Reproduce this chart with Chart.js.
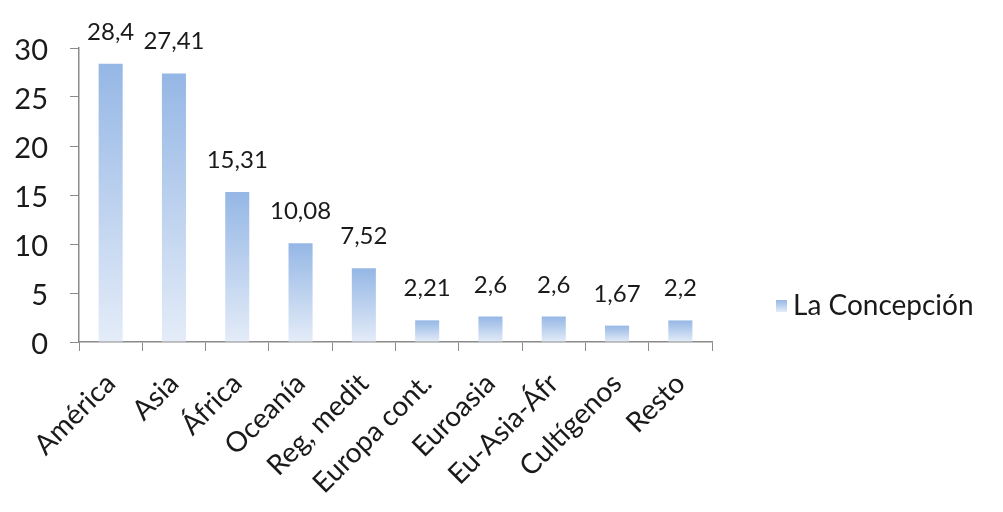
<!DOCTYPE html>
<html lang="es">
<head>
  <meta charset="utf-8" />
  <title>La Concepción</title>
  <script src="https://cdn.jsdelivr.net/npm/chart.js"></script>
  <style>
    * { box-sizing: border-box; margin: 0; padding: 0; }
    body { background: #fff; }
    .wrap { width: 1003px; height: 512px; position: relative; }
  </style>
</head>
<body>
  <div class="wrap"><canvas id="chart"></canvas></div>

  <script>
    const categories = ['América', 'Asia', 'África', 'Oceanía', 'Reg, medit', 'Europa cont.', 'Euroasia', 'Eu-Asia-Áfr', 'Cultígenos', 'Resto'];
    const values = [28.4, 27.41, 15.31, 10.08, 7.52, 2.21, 2.6, 2.6, 1.67, 2.2];
    const seriesName = 'La Concepción';
    const yTicks = [0, 5, 10, 15, 20, 25, 30];

    const FONT = 'Lato, "Open Sans", sans-serif';
    const fmt = v => String(v).replace('.', ',');

    // each bar gets its own top-to-bottom fade
    function barFill(ctx) {
      const { chart } = ctx;
      const area = chart.chartArea;
      const ys = chart.scales.y;
      if (!area || !ys || ctx.dataIndex == null) return '#a9c4e8';
      const top = ys.getPixelForValue(values[ctx.dataIndex]);
      const g = chart.ctx.createLinearGradient(0, top, 0, area.bottom);
      g.addColorStop(0, '#95b7e5');
      g.addColorStop(1, '#e4ecf8');
      return g;
    }

    // value labels above bars
    const valueLabels = {
      id: 'valueLabels',
      afterDatasetsDraw(chart) {
        const c = chart.ctx;
        const meta = chart.getDatasetMeta(0);
        c.save();
        c.font = '24px ' + FONT;
        c.fillStyle = '#1a1a1a';
        c.textAlign = 'center';
        c.textBaseline = 'alphabetic';
        meta.data.forEach((bar, i) => {
          c.fillText(fmt(values[i]), bar.x, bar.y - 24);
        });
        c.restore();
      }
    };

    // legend drawn at the right, like the original sheet
    const sideLegend = {
      id: 'sideLegend',
      afterDraw(chart) {
        const c = chart.ctx;
        const x = 776, y = 306;
        c.save();
        const g = c.createLinearGradient(0, y - 6, 0, y + 6);
        g.addColorStop(0, '#95b7e5');
        g.addColorStop(1, '#e4ecf8');
        c.fillStyle = g;
        c.fillRect(x, y - 6, 11, 12);
        c.font = '28px ' + FONT;
        c.fillStyle = '#1a1a1a';
        c.textBaseline = 'middle';
        c.fillText(seriesName, x + 17, y);
        c.restore();
      }
    };

    new Chart('chart', {
      type: 'bar',
      data: {
        labels: categories,
        datasets: [{
          label: seriesName,
          data: values,
          backgroundColor: barFill,
          barPercentage: 0.38,
          categoryPercentage: 1
        }]
      },
      options: {
        responsive: true,
        maintainAspectRatio: false,
        animation: false,
        layout: { padding: { top: 48, right: 291, left: 6, bottom: 0 } },
        plugins: {
          legend: { display: false },
          tooltip: { enabled: false }
        },
        scales: {
          x: {
            afterFit: axis => { axis.height = 170; },
            grid: { drawOnChartArea: false, color: '#8a8a8a', tickLength: 9, offset: true },
            border: { color: '#8a8a8a', width: 1.5 },
            ticks: {
              color: '#1a1a1a',
              font: { size: 28, family: FONT },
              maxRotation: 45,
              minRotation: 45,
              padding: 16
            }
          },
          y: {
            min: 0,
            max: 30,
            afterFit: axis => { axis.width = 73; },
            afterBuildTicks: axis => { axis.ticks = yTicks.map(v => ({ value: v })); },
            grid: { drawOnChartArea: false, color: '#8a8a8a', tickLength: 9 },
            border: { color: '#8a8a8a', width: 1.5 },
            ticks: {
              color: '#1a1a1a',
              font: { size: 29, family: FONT },
              padding: 22,
              labelOffset: 3
            }
          }
        }
      },
      plugins: [valueLabels, sideLegend]
    });
  </script>
</body>
</html>
